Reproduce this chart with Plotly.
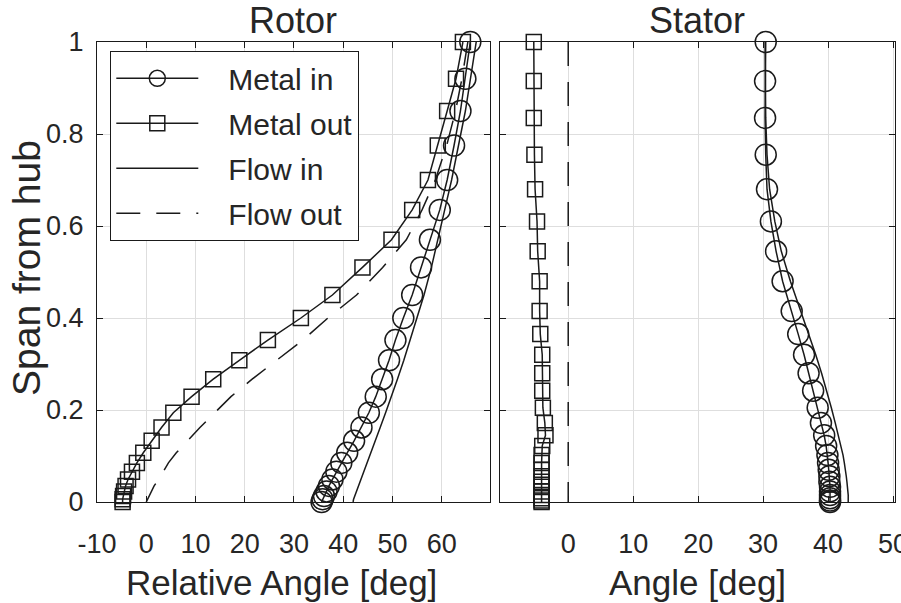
import plotly.graph_objects as go

# ---------------- data ----------------
rotor_span = [1.0, 0.92, 0.85, 0.775, 0.70, 0.635, 0.57, 0.51, 0.45, 0.40, 0.352, 0.308, 0.267,
              0.229, 0.194, 0.162, 0.133, 0.107, 0.085, 0.066, 0.049, 0.035, 0.023, 0.013, 0.006, 0.0]
rotor_metal_in = [65.8, 64.8, 63.8, 62.5, 61.1, 59.6, 57.6, 55.8, 54.0, 52.2, 50.6, 49.3, 47.9,
                  46.6, 45.2, 43.7, 42.2, 40.8, 39.6, 38.6, 37.8, 37.1, 36.6, 36.1, 35.8, 35.6]
rotor_metal_out = [64.3, 62.9, 61.1, 59.2, 57.2, 54.0, 49.8, 43.9, 37.8, 31.4, 24.7, 18.9, 13.6,
                   9.2, 5.5, 3.1, 1.1, -0.6, -1.9, -2.9, -3.7, -4.2, -4.5, -4.7, -4.8, -4.8]
rotor_flow_in = [67.0, 65.9, 64.8, 63.4, 62.0, 60.6, 59.2, 57.9, 56.4, 55.0, 53.6, 52.3, 51.0,
                 49.8, 48.6, 47.5, 46.5, 45.6, 44.8, 44.1, 43.5, 43.0, 42.6, 42.3, 42.1, 42.0]
rotor_flow_out = [65.3, 64.1, 62.8, 61.0, 58.7, 56.0, 52.8, 48.0, 42.7, 36.9, 31.8, 26.4, 21.5,
                  17.2, 13.8, 10.9, 8.4, 6.1, 4.5, 3.5, 2.5, 1.6, 1.0, 0.5, 0.2, 0.0]

stator_span = [1.0, 0.915, 0.835, 0.755, 0.68, 0.61, 0.545, 0.48, 0.415, 0.365, 0.32, 0.28, 0.242, 0.205,
               0.172, 0.145, 0.122, 0.102, 0.085, 0.07, 0.056, 0.044, 0.033, 0.023, 0.015, 0.008, 0.003, 0.0]
stator_metal_in = [30.4, 30.3, 30.3, 30.4, 30.6, 31.2, 32.0, 33.0, 34.4, 35.4, 36.3, 37.0, 37.7, 38.4,
                   38.9, 39.4, 39.7, 39.9, 40.0, 40.1, 40.2, 40.2, 40.3, 40.3, 40.3, 40.3, 40.3, 40.3]
stator_metal_out = [-5.3, -5.3, -5.3, -5.2, -5.1, -4.8, -4.7, -4.4, -4.4, -4.3, -4.0, -4.0, -4.0, -3.9,
                    -3.6, -3.5, -4.0, -4.1, -4.1, -4.1, -4.1, -4.1, -4.1, -4.1, -4.1, -4.1, -4.1, -4.1]
stator_flow_in = [30.3, 30.3, 30.4, 30.6, 31.0, 31.8, 32.8, 34.2, 35.8, 37.0, 38.1, 39.0, 39.8, 40.5,
                  41.1, 41.6, 42.0, 42.3, 42.5, 42.7, 42.8, 42.9, 43.0, 43.0, 43.1, 43.1, 43.1, 43.1]
stator_flow_out = [0.0] * len(stator_span)

rotor_xticks = [-10, 0, 10, 20, 30, 40, 50, 60]
rotor_xlabels = ["-10", "0", "10", "20", "30", "40", "50", "60"]
stator_xticks = [0, 10, 20, 30, 40, 50]
stator_xlabels = ["0", "10", "20", "30", "40", "50"]
yticks = [0, 0.2, 0.4, 0.6, 0.8, 1]
ylabels = ["0", "0.2", "0.4", "0.6", "0.8", "1"]

# ---------------- figure ----------------
FONT = "Liberation Sans, Arial, Helvetica, sans-serif"
BLK = "#1a1a1a"
TXT = "#262626"
W, H = 901, 603
ML, MR, MT, MB = 97, 6, 42, 101
PW = W - ML - MR
PH = H - MT - MB
NB = "\u00a0" * 3

fig = go.Figure()

def add(x, y, name, xa, ya, marker=None, dash="solid", show=False):
    kw = dict(x=x, y=y, name=NB + name, xaxis=xa, yaxis=ya, legendgroup=name,
              showlegend=show, cliponaxis=False,
              line=dict(color=BLK, width=1.5, dash=dash))
    if marker:
        kw["mode"] = "lines+markers"
        kw["marker"] = dict(symbol=marker[0], size=marker[1], color=BLK,
                            line=dict(color=BLK, width=1.5))
    else:
        kw["mode"] = "lines"
    fig.add_trace(go.Scatter(**kw))

DASH = "24px,16px"
add(rotor_metal_in, rotor_span, "Metal in", "x", "y", ("circle-open", 21), show=True)
add(rotor_metal_out, rotor_span, "Metal out", "x", "y", ("square-open", 15), show=True)
add(rotor_flow_in, rotor_span, "Flow in", "x", "y", show=True)
add(rotor_flow_out, rotor_span, "Flow out", "x", "y", dash=DASH, show=True)

add(stator_metal_in, stator_span, "Metal in", "x2", "y2", ("circle-open", 21))
add(stator_metal_out, stator_span, "Metal out", "x2", "y2", ("square-open", 15))
add(stator_flow_in, stator_span, "Flow in", "x2", "y2")
add(stator_flow_out, stator_span, "Flow out", "x2", "y2", dash=DASH)

def px(p):  # page px -> paper fraction (x)
    return (p - ML) / PW

def py(p):  # page px -> paper fraction (y)
    return (H - MB - p) / PH

common_axis = dict(showline=True, linecolor=BLK, linewidth=1.3, mirror="ticks",
                   ticks="inside", ticklen=6, tickcolor=BLK, tickwidth=1.2, showgrid=True,
                   gridcolor="#dedede", gridwidth=1, zeroline=False, automargin=False,
                   ticklabeloverflow="allow",
                   tickfont=dict(family=FONT, size=27, color=TXT))

def label(text, x, y, size, angle=0):
    return dict(text=text, x=px(x), y=py(y), xref="paper", yref="paper",
                xanchor="center", yanchor="middle", showarrow=False, textangle=angle,
                font=dict(family=FONT, size=size, color=TXT))

fig.update_layout(
    width=W, height=H,
    margin=dict(l=ML, r=MR, t=MT, b=MB, autoexpand=False),
    paper_bgcolor="white", plot_bgcolor="white",
    font=dict(family=FONT, color=TXT),
    xaxis=dict(domain=[px(97), px(490)], range=[-10, 69.8], anchor="y",
               tickmode="array", tickvals=rotor_xticks, ticktext=rotor_xlabels,
               ticklabelstandoff=17, **common_axis),
    yaxis=dict(domain=[0, 1], range=[0, 1], anchor="x",
               tickmode="array", tickvals=yticks, ticktext=ylabels,
               ticklabelstandoff=7, **common_axis),
    xaxis2=dict(domain=[px(500), px(895)], range=[-10.5, 50.3], anchor="y2",
                tickmode="array", tickvals=stator_xticks, ticktext=stator_xlabels,
                ticklabelstandoff=17, **common_axis),
    yaxis2=dict(domain=[0, 1], range=[0, 1], anchor="x2",
                tickmode="array", tickvals=yticks, showticklabels=False,
                **common_axis),
    legend=dict(x=px(110), y=py(51), xanchor="left", yanchor="top",
                bgcolor="white", bordercolor=BLK, borderwidth=1.3,
                font=dict(family=FONT, size=30, color=TXT),
                tracegroupgap=3, itemwidth=82),
    annotations=[
        label("Rotor", 293, 20, 36),
        label("Stator", 697, 20, 36),
        label("Relative Angle [deg]", 281, 582, 35),
        label("Angle [deg]", 697, 582, 35),
        label("Span from hub", 26, 268, 39, -90),
    ],
)

fig.write_html("out.html")
